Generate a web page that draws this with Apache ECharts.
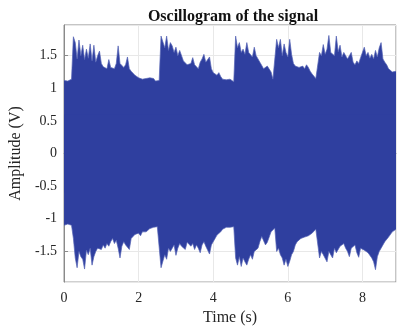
<!DOCTYPE html>
<html>
<head>
<meta charset="utf-8">
<script src="https://cdn.jsdelivr.net/npm/echarts@6/dist/echarts.min.js"></script>
<style>
html,body{margin:0;padding:0;background:#fff;}
#chart{width:397px;height:331px;}
</style>
</head>
<body>
<div id="chart"></div>
<script>
// Envelope of the oscillogram, every 0.05 s (t = 0 ... 8.9 s)
const sampleStep = 0.05;
const upperEnvelope = [
  // 0.00 - 0.95 s
  1.12,1.13,1.11,1.10,1.14,1.79,1.70,1.45,1.74,1.50,1.66,1.44,1.60,1.46,1.68,1.42,1.66,1.40,1.50,1.57,
  // 1.00 - 1.95 s
  1.38,1.33,1.36,1.30,1.44,1.32,1.34,1.30,1.38,1.65,1.38,1.40,1.32,1.36,1.48,1.30,1.26,1.28,1.20,1.18,
  // 2.00 - 2.95 s
  1.16,1.17,1.14,1.13,1.15,1.12,1.16,1.13,1.15,1.11,1.10,1.12,1.80,1.81,1.62,1.80,1.58,1.70,1.65,1.55,
  // 3.00 - 3.95 s
  1.63,1.50,1.58,1.56,1.42,1.40,1.36,1.33,1.38,1.47,1.36,1.34,1.30,1.40,1.45,1.52,1.40,1.42,1.48,1.30,
  // 4.00 - 4.95 s
  1.24,1.22,1.20,1.24,1.18,1.14,1.12,1.13,1.11,1.14,1.12,1.10,1.80,1.62,1.70,1.55,1.60,1.52,1.70,1.55,
  // 5.00 - 5.95 s
  1.58,1.48,1.63,1.50,1.45,1.40,1.42,1.30,1.28,1.34,1.34,1.25,1.14,1.12,1.75,1.62,1.75,1.50,1.68,1.55,
  // 6.00 - 6.95 s
  1.48,1.75,1.52,1.38,1.34,1.36,1.32,1.35,1.34,1.30,1.36,1.32,1.26,1.22,1.19,1.15,1.14,1.55,1.50,1.67,
  // 7.00 - 7.95 s
  1.52,1.60,1.81,1.55,1.58,1.50,1.80,1.56,1.66,1.48,1.55,1.57,1.45,1.50,1.55,1.40,1.36,1.42,1.38,1.47,
  // 8.00 - 8.90 s
  1.45,1.63,1.50,1.55,1.46,1.52,1.45,1.58,1.48,1.62,1.70,1.45,1.40,1.36,1.30,1.29,1.25,1.28,1.26
];
const lowerEnvelope = [
  // 0.00 - 0.95 s
  -1.10,-1.09,-1.08,-1.07,-1.10,-1.30,-1.60,-1.75,-1.50,-1.58,-1.62,-1.77,-1.48,-1.55,-1.45,-1.71,-1.58,-1.50,-1.45,-1.48,
  // 1.00 - 1.95 s
  -1.47,-1.40,-1.45,-1.38,-1.42,-1.35,-1.30,-1.38,-1.33,-1.45,-1.60,-1.42,-1.35,-1.40,-1.38,-1.47,-1.30,-1.28,-1.24,-1.25,
  // 2.00 - 2.95 s
  -1.22,-1.26,-1.20,-1.23,-1.20,-1.18,-1.15,-1.14,-1.13,-1.14,-1.12,-1.14,-1.75,-1.65,-1.55,-1.62,-1.45,-1.50,-1.47,-1.40,
  // 3.00 - 3.95 s
  -1.56,-1.45,-1.38,-1.42,-1.40,-1.47,-1.36,-1.33,-1.42,-1.38,-1.47,-1.40,-1.45,-1.52,-1.40,-1.35,-1.42,-1.45,-1.54,-1.40,
  // 4.00 - 4.95 s
  -1.35,-1.30,-1.25,-1.22,-1.20,-1.16,-1.14,-1.13,-1.12,-1.13,-1.14,-1.12,-1.60,-1.71,-1.58,-1.73,-1.60,-1.66,-1.71,-1.62,
  // 5.00 - 5.95 s
  -1.55,-1.62,-1.50,-1.52,-1.45,-1.35,-1.27,-1.30,-1.40,-1.36,-1.28,-1.20,-1.18,-1.14,-1.50,-1.45,-1.55,-1.60,-1.71,-1.62,
  // 6.00 - 6.95 s
  -1.73,-1.65,-1.55,-1.50,-1.40,-1.35,-1.33,-1.30,-1.32,-1.28,-1.30,-1.26,-1.24,-1.22,-1.20,-1.16,-1.14,-1.60,-1.50,-1.55,
  // 7.00 - 7.95 s
  -1.52,-1.66,-1.50,-1.48,-1.60,-1.45,-1.52,-1.55,-1.42,-1.40,-1.38,-1.45,-1.50,-1.58,-1.45,-1.48,-1.40,-1.52,-1.59,-1.45,
  // 8.00 - 8.90 s
  -1.42,-1.48,-1.45,-1.52,-1.50,-1.60,-1.66,-1.78,-1.58,-1.50,-1.45,-1.40,-1.35,-1.32,-1.28,-1.25,-1.20,-1.18,-1.16
];
const xTickLabels = [0, 2, 4, 6, 8];
const yTickLabels = [-1.5, -1, -0.5, 0, 0.5, 1, 1.5];

const times = upperEnvelope.map((_, i) => +(i * sampleStep).toFixed(4));
const upperData = times.map((t, i) => [t, upperEnvelope[i]]);
const lowerData = times.map((t, i) => [t, lowerEnvelope[i]]);

const font = 'Liberation Serif, Times New Roman, serif';
const txt = '#262626';
const blue = '#2f3f9f';
// upper half filled down to the bottom of the axis, lower half up to the top: they overlap, no seam
const envSeries = (data, origin) => ({
  type: 'line',
  data: data,
  showSymbol: false,
  symbol: 'none',
  sampling: null,
  lineStyle: {color: '#5563b4', width: 0.7},
  areaStyle: {color: blue, opacity: 1, origin: origin},
  z: 3
});

const chart = echarts.init(document.getElementById('chart'), null, {renderer: 'canvas'});
chart.setOption({
  animation: false,
  backgroundColor: '#fff',
  title: {
    text: 'Oscillogram of the signal',
    left: 228, top: 4, textAlign: 'center',
    textStyle: {fontFamily: font, fontWeight: 'bold', fontSize: 16, color: '#111'}
  },
  grid: {left: 59, right: 1, top: 25, bottom: 46, show: true, borderColor: '#8a8a8a', borderWidth: 1, backgroundColor: '#fff'},
  xAxis: {
    type: 'value', min: 0, max: 8.9, interval: 2,
    name: 'Time (s)', nameLocation: 'middle', nameGap: 22,
    nameTextStyle: {fontFamily: font, fontSize: 16, color: txt},
    axisLine: {show: true, lineStyle: {color: '#8a8a8a'}},
    axisTick: {show: true, inside: true, length: 4, lineStyle: {color: '#8a8a8a'}},
    axisLabel: {fontFamily: font, fontSize: 14, color: txt, margin: 9, showMaxLabel: false,
      formatter: v => xTickLabels.indexOf(v) >= 0 ? String(v) : ''},
    splitLine: {show: true, lineStyle: {color: '#e8e8e8', width: 1}}
  },
  yAxis: {
    type: 'value', min: -1.97, max: 1.97, splitNumber: 8,
    name: 'Amplitude (V)', nameLocation: 'middle', nameGap: 31, nameRotate: 90,
    nameTextStyle: {fontFamily: font, fontSize: 16, color: txt},
    axisLine: {show: true, lineStyle: {color: '#8a8a8a'}},
    axisTick: {show: true, inside: true, length: 4, lineStyle: {color: '#8a8a8a'}},
    axisLabel: {fontFamily: font, fontSize: 14, color: txt, margin: 7, showMinLabel: false, showMaxLabel: false,
      formatter: v => yTickLabels.indexOf(v) >= 0 ? String(v) : ''},
    splitLine: {show: true, lineStyle: {color: '#e8e8e8', width: 1}}
  },
  series: [envSeries(upperData, -0.6), envSeries(lowerData, 0.6)]
});
</script>
</body>
</html>
